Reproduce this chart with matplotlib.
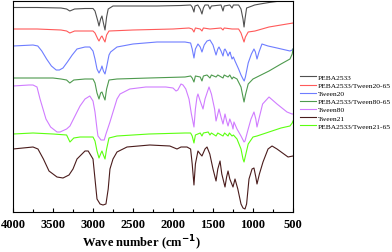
import numpy as np
import matplotlib
matplotlib.use("Agg")
import matplotlib.pyplot as plt
from matplotlib.ticker import MultipleLocator

plt.rcParams['font.family'] = ['Liberation Serif', 'DejaVu Serif']

# FTIR spectra, transmittance in arbitrary offset units
peba_wn = [4000,3700,3400,3330,3290,3230,3100,3000,2975,2940,2925,2905,2888,2870,2850,2830,2810,2750,2500,2200,
           1900,1780,1760,1738,1725,1690,1660,1638,1620,1600,1560,1538,1520,1400,1375,1360,1290,1262,1245,1180,
           1150,1125,1112,1100,1080,1012,980,912,800,660,500]
peba_t = [204.5,204.5,204,203,201,203,203.5,203.5,201,191,186,193,196,189,182,195,203,206,206,206,
          206.5,207,205,200,206,207,203,198,204,207,207,203,206,207,201,206,207,204,207,207,
          203,193,185,193,204,206,207,208,209.5,211,211]

p20_wn = [4000,3700,3400,3330,3290,3230,3000,2975,2940,2925,2900,2888,2870,2850,2830,2800,2500,2000,1800,1760,
          1738,1720,1660,1638,1620,1538,1400,1375,1360,1262,1180,1150,1125,1112,1095,1060,975,800,650,500]
p20_t = [183,183,182,181,179,181,181,179,173,171,175,176,173,170,177,181,182,183,184,183,
         180,184,183,181,184,183,184,182,184,183,183,179,173,170,175,180,181,185,187,189]

t20_wn = [4000,3750,3690,3640,3580,3520,3460,3420,3375,3320,3260,3200,3100,3040,3000,2975,2950,2925,2900,2888,
          2870,2850,2830,2800,2780,2700,2500,2200,1850,1780,1760,1738,1720,1688,1660,1638,1610,1575,1538,1500,
          1462,1440,1425,1400,1375,1360,1350,1330,1312,1295,1288,1262,1245,1225,1180,1150,1125,1110,1095,1060,
          1020,988,970,950,925,888,812,700,538,510,500]
t20_t = [166,167,166,161,153,146,142,142,144,150,157,163,165,165,161,153,143,139,143,146,
         141,138,145,157,160,165,168,170,170,169,163,154,163,168,165,160,167,171,172,167,
         157,163,165,161,156,162,163,160,156,159,160,153,155,151,143,137,133,131,135,149,
         158,163,160,153,160,168,166,164,161,162,163]

p80_wn = [4000,3700,3500,3400,3330,3290,3240,3100,3000,2975,2950,2925,2905,2888,2870,2850,2830,2800,2700,2300,
          1850,1780,1760,1738,1720,1660,1638,1620,1575,1538,1520,1462,1440,1375,1360,1312,1290,1262,1245,1200,
          1150,1125,1112,1095,1060,1000,950,800,650,538,510,500]
p80_t = [134,134,134,133,132,129,132,133,133,129,119,113,119,120,116,112,123,132,133,134,
         135,136,134,130,136,135,131,136,137,134,137,135,137,134,137,135,137,133,135,133,
         125,115,110,117,128,133,135,141,148,153,158,163]

t80_wn = [4000,3800,3750,3700,3662,3588,3530,3450,3412,3330,3288,3200,3162,3100,3040,3000,2975,2950,2938,2900,
          2860,2838,2788,2750,2700,2662,2540,2340,2090,2000,1962,1940,1900,1875,1840,1800,1770,1738,1720,1700,
          1688,1660,1625,1600,1550,1520,1480,1462,1440,1425,1400,1375,1350,1330,1312,1290,1262,1250,1238,1200,
          1150,1112,1100,1060,1025,988,965,950,920,880,800,700,575,512,500]
t80_t = [126,127,127,125,113,93,85,80,80,83,86,100,106,113,116,111,100,83,76,72,
         72,78,90,100,113,118,123,125,125,124,121,122,128,127,123,113,98,85,103,115,
         118,111,103,113,125,118,103,91,98,103,95,88,98,91,86,93,87,83,90,83,
         76,70,71,83,93,100,93,85,95,108,115,108,100,98,98]

t21_wn = [4000,3750,3688,3620,3550,3450,3375,3300,3250,3200,3100,3060,3000,2975,2950,2912,2875,2838,2810,2788,
          2750,2700,2575,2290,2040,1950,1900,1825,1780,1760,1738,1720,1688,1660,1638,1600,1575,1540,1500,1462,
          1440,1412,1390,1350,1330,1312,1290,1250,1225,1190,1150,1125,1100,1080,1050,1012,988,965,950,920,
          875,812,762,700,562,500]
t21_t = [63,65,63,53,41,35,34,37,43,53,61,61,53,33,13,8,7,8,23,43,
         53,60,65,67,66,63,65,65,63,48,27,48,61,58,56,63,65,58,43,31,
         43,51,38,25,35,41,33,25,33,23,8,4,3,8,33,43,44,35,28,38,
         50,63,66,63,55,56]

p21_wn = [4000,3750,3500,3330,3288,3240,3162,3000,2975,2950,2925,2900,2888,2870,2850,2830,2800,2700,2300,1850,
          1780,1760,1738,1720,1660,1638,1620,1560,1538,1520,1462,1440,1375,1355,1312,1295,1262,1245,1200,1150,
          1125,1112,1095,1060,1000,950,800,650,538,510,500]
p21_t = [78,79,78,77,70,74,75,75,71,61,54,59,61,57,53,63,74,76,78,79,
         79,76,69,77,79,76,79,80,77,79,76,79,76,79,76,79,76,77,73,63,
         53,50,56,68,75,76,80,84,86,89,91]

labels = ["PEBA2533", "PEBA2533/Tween20-65", "Tween20", "PEBA2533/Tween80-65",
          "Tween80", "Tween21", "PEBA2533/Tween21-65"]
colors = ["#505050", "#ff5a5a", "#6e7dff", "#4e9a4e", "#d07cff", "#4a1c1c", "#5cff10"]

series = [(peba_wn, peba_t), (p20_wn, p20_t), (t20_wn, t20_t), (p80_wn, p80_t),
          (t80_wn, t80_t), (t21_wn, t21_t), (p21_wn, p21_t)]

fig = plt.figure(figsize=(3.92, 2.53), dpi=100)
ax = fig.add_axes([13/392, 40/253, 280/392, 211/253])

for (wn, t), lab, c in zip(series, labels, colors):
    ax.plot(wn, t, color=c, lw=0.8, label=lab)

ax.set_xlim(4000, 500)
ax.set_ylim(0, 211)
ax.set_yticks([])
ax.xaxis.set_major_locator(MultipleLocator(500))
ax.xaxis.set_minor_locator(MultipleLocator(250))
ax.tick_params(axis='x', which='major', direction='in', length=3, width=0.8, pad=4)
ax.tick_params(axis='x', which='minor', direction='in', length=2, width=0.8)
for lbl in ax.get_xticklabels():
    lbl.set_fontweight('bold')
    lbl.set_fontsize(9)
for s in ax.spines.values():
    s.set_linewidth(0.8)

ax.set_xlabel("Wave number (cm$^{\\mathbf{-1}}$)", fontsize=9, fontweight='bold')
ax.xaxis.set_label_coords(0.457, -0.10)

fig.legend(loc='upper left', bbox_to_anchor=(296/392, 1 - 71/253), frameon=False,
           fontsize=5.4, borderpad=0, labelspacing=0.25, handlelength=2.1, handletextpad=0.35)

fig.savefig("out.png", dpi=100)
